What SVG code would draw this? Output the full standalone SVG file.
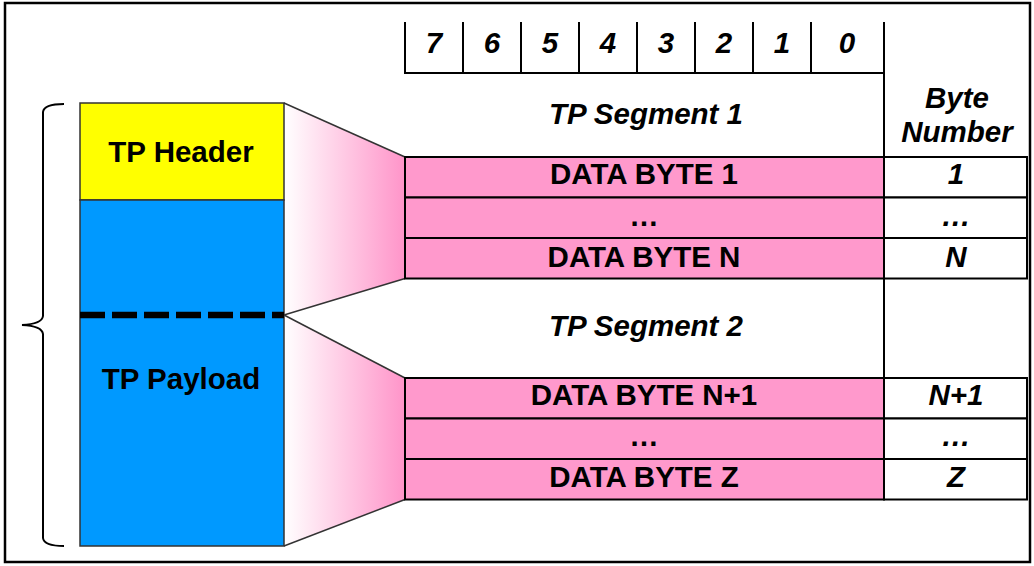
<svg xmlns="http://www.w3.org/2000/svg" width="1034" height="566" viewBox="0 0 1034 566">
  <defs>
    <linearGradient id="fan" x1="0" y1="0" x2="1" y2="0">
      <stop offset="0" stop-color="#FFFFFF"/>
      <stop offset="1" stop-color="#FF94C9"/>
    </linearGradient>
    <style>
      .t { font-family: "Liberation Sans", Arial, sans-serif; font-weight: bold; font-size: 29.5px; fill: #000; text-anchor: middle; }
      .i { font-style: italic; }
      .row { fill: #FF99CC; stroke: #000; stroke-width: 2; }
      .num { fill: #FFFFFF; stroke: #000; stroke-width: 2; }
      .ln { stroke: #000; stroke-width: 2; fill: none; }
      .fan { fill: url(#fan); stroke: none; }
      .edge { stroke: #333; stroke-width: 1.5; fill: none; }
    </style>
  </defs>

  <rect x="0" y="0" width="1034" height="566" fill="#FFFFFF"/>
  <rect x="5" y="3" width="1025" height="559" fill="none" stroke="#000" stroke-width="2.5"/>

  <!-- connectors / fan-outs -->
  <g id="connectors">
    <polygon class="fan" points="284,103 405,157 405,278.5 284,315"/>
    <polyline class="edge" points="284,103 405,157"/>
    <polyline class="edge" points="405,278.5 284,315"/>
    <polygon class="fan" points="284,315 405,378 405,499.5 284,546"/>
    <polyline class="edge" points="284,315 405,378"/>
    <polyline class="edge" points="405,499.5 284,546"/>
  </g>

  <!-- brace -->
  <g id="brace">
    <path class="ln" d="M64,104 Q44,104 43,112 L43,316 Q42,324 22,325 Q42,326 43,334 L43,538 Q44,546 64,546"/>
  </g>

  <!-- TP message block -->
  <g id="tp-header">
    <rect x="80" y="103" width="204" height="97" fill="#FFFF00" stroke="#333" stroke-width="1.5"/>
    <text class="t" x="181" y="162">TP Header</text>
  </g>
  <g id="tp-payload">
    <rect x="80" y="200" width="204" height="346" fill="#0099FF" stroke="#333" stroke-width="1.5"/>
    <line x1="80" y1="315" x2="284" y2="315" stroke="#000" stroke-width="6.5" stroke-dasharray="25 7"/>
    <text class="t" x="181" y="389">TP Payload</text>
  </g>

  <!-- bit header -->
  <g id="bit-header">
    <path class="ln" d="M405,22 V73 H884 M463,22 V73 M521,22 V73 M579,22 V73 M637,22 V73 M695,22 V73 M753,22 V73 M811,22 V73 M884,22 V499.5"/>
    <text class="t i" x="434" y="53">7</text>
    <text class="t i" x="492" y="53">6</text>
    <text class="t i" x="550" y="53">5</text>
    <text class="t i" x="608" y="53">4</text>
    <text class="t i" x="666" y="53">3</text>
    <text class="t i" x="724" y="53">2</text>
    <text class="t i" x="782" y="53">1</text>
    <text class="t i" x="847" y="53">0</text>
  </g>

  <g id="byte-number-label">
    <text class="t i" x="957" y="108">Byte</text>
    <text class="t i" x="957" y="142">Number</text>
  </g>

  <!-- Segment 1 -->
  <g id="segment1">
    <text class="t i" x="646" y="124">TP Segment 1</text>
    <rect class="row" x="405" y="157" width="479" height="40.5"/>
    <rect class="row" x="405" y="197.5" width="479" height="40.5"/>
    <rect class="row" x="405" y="238" width="479" height="40.5"/>
    <text class="t" x="644" y="184">DATA BYTE 1</text>
    <text class="t" x="644" y="226">…</text>
    <text class="t" x="644" y="267">DATA BYTE N</text>
    <rect class="num" x="884" y="157" width="143" height="40.5"/>
    <rect class="num" x="884" y="197.5" width="143" height="40.5"/>
    <rect class="num" x="884" y="238" width="143" height="40.5"/>
    <text class="t i" x="956" y="184">1</text>
    <text class="t i" x="956" y="226">…</text>
    <text class="t i" x="956" y="267">N</text>
  </g>

  <!-- Segment 2 -->
  <g id="segment2">
    <text class="t i" x="646" y="336">TP Segment 2</text>
    <rect class="row" x="405" y="378" width="479" height="40.5"/>
    <rect class="row" x="405" y="418.5" width="479" height="40.5"/>
    <rect class="row" x="405" y="459" width="479" height="40.5"/>
    <text class="t" x="644" y="405">DATA BYTE N+1</text>
    <text class="t" x="644" y="446">…</text>
    <text class="t" x="644" y="487">DATA BYTE Z</text>
    <rect class="num" x="884" y="378" width="143" height="40.5"/>
    <rect class="num" x="884" y="418.5" width="143" height="40.5"/>
    <rect class="num" x="884" y="459" width="143" height="40.5"/>
    <text class="t i" x="956" y="405">N+1</text>
    <text class="t i" x="956" y="446">…</text>
    <text class="t i" x="956" y="487">Z</text>
  </g>
</svg>
